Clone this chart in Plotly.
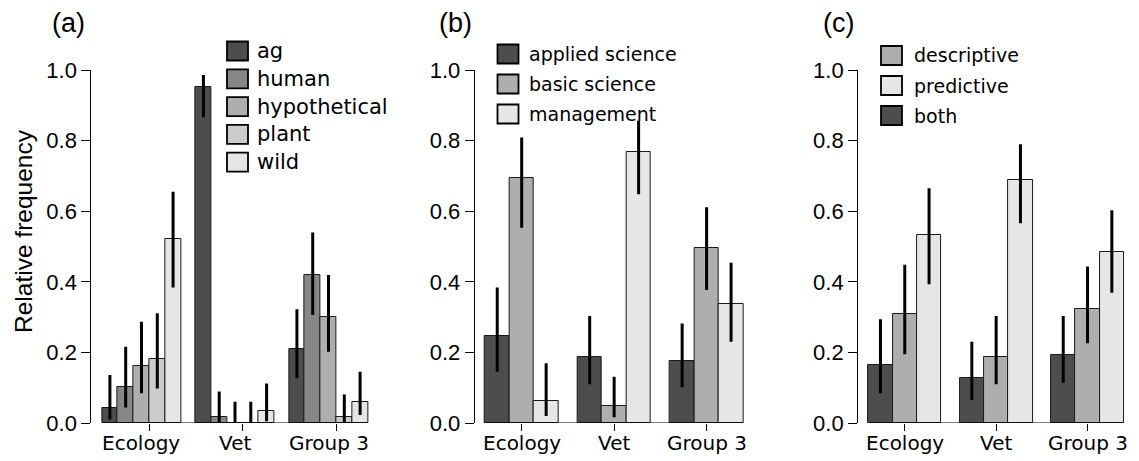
import plotly.graph_objects as go

W, H = 1139, 461

groups = ["Ecology", "Vet", "Group 3"]

# Panel (a)
a_names = ["ag", "human", "hypothetical", "plant", "wild"]
a_colors = ["#4D4D4D", "#878787", "#AEAEAE", "#CCCCCC", "#E6E6E6"]
a_vals = [[0.042, 0.953, 0.211], [0.101, 0.018, 0.419], [0.161, 0.0, 0.299],
          [0.181, 0.0, 0.018], [0.521, 0.034, 0.060]]
a_lo = [[0.010, 0.866, 0.127], [0.044, 0.0, 0.306], [0.084, 0.0, 0.202],
        [0.098, 0.0, 0.0], [0.384, 0.005, 0.023]]
a_hi = [[0.136, 0.986, 0.322], [0.216, 0.089, 0.540], [0.287, 0.060, 0.419],
        [0.311, 0.060, 0.081], [0.655, 0.112, 0.145]]

# Panel (b)
b_names = ["applied science", "basic science", "management"]
b_colors = ["#4D4D4D", "#AEAEAE", "#E6E6E6"]
b_vals = [[0.246, 0.188, 0.176], [0.695, 0.048, 0.495], [0.062, 0.767, 0.336]]
b_lo = [[0.145, 0.110, 0.101], [0.553, 0.016, 0.377], [0.020, 0.648, 0.230]]
b_hi = [[0.384, 0.303, 0.282], [0.809, 0.131, 0.611], [0.169, 0.856, 0.454]]

# Panel (c) (bar order: both, descriptive, predictive)
c_names = ["both", "descriptive", "predictive"]
c_colors = ["#4D4D4D", "#AEAEAE", "#E6E6E6"]
c_vals = [[0.164, 0.127, 0.192], [0.308, 0.188, 0.324], [0.532, 0.688, 0.485]]
c_lo = [[0.084, 0.065, 0.114], [0.195, 0.110, 0.226], [0.393, 0.566, 0.369]]
c_hi = [[0.294, 0.230, 0.303], [0.448, 0.303, 0.443], [0.665, 0.790, 0.603]]
c_legend_order = ["descriptive", "predictive", "both"]

y_ticks = [0.0, 0.2, 0.4, 0.6, 0.8, 1.0]
y_ticklabels = ["0.0", "0.2", "0.4", "0.6", "0.8", "1.0"]

SANS = "Liberation Sans, Arial, sans-serif"
DEJ = "DejaVu Sans, sans-serif"

# layout of panels in pixels
Y0_PX, Y1_PX = 423, 70
XLAB_PX = 443
panels = [
    dict(key="a", names=a_names, colors=a_colors, vals=a_vals, lo=a_lo, hi=a_hi,
         axis_px=91, bars_px=(102, 368), gap=0.92, tickoff="start3",
         title="(a)", title_x=68.5,
         leg=dict(names=a_names, sq_x=227, sq_w=21, sq_h=19, y0=51, dy=27.8, tx=255, fs=21)),
    dict(key="b", names=b_names, colors=b_colors, vals=b_vals, lo=b_lo, hi=b_hi,
         axis_px=474.5, bars_px=(485, 743.3), gap=0.78, tickoff="center",
         title="(b)", title_x=455,
         leg=dict(names=b_names, sq_x=497.5, sq_w=21, sq_h=19, y0=54, dy=30, tx=527, fs=19)),
    dict(key="c", names=c_names, colors=c_colors, vals=c_vals, lo=c_lo, hi=c_hi,
         axis_px=858, bars_px=(868.3, 1124), gap=0.76, tickoff="center",
         title="(c)", title_x=838,
         leg=dict(names=c_legend_order, sq_x=881, sq_w=21, sq_h=19, y0=55.5, dy=30, tx=912, fs=19)),
]

fig = go.Figure()
shapes = []
annotations = []

for i, p in enumerate(panels):
    n = len(p["names"])
    gap = p["gap"]
    total = len(groups) * n + (len(groups) - 1) * gap
    bx0, bx1 = p["bars_px"]
    ext = 0.04 * total
    xr = [-ext, total + ext]
    dom_left = bx0 - (bx1 - bx0) * 0.04
    dom_right = bx1 + (bx1 - bx0) * 0.04
    xa = "x" if i == 0 else f"x{i+1}"
    ya = "y" if i == 0 else f"y{i+1}"
    xkey = "xaxis" if i == 0 else f"xaxis{i+1}"
    ykey = "yaxis" if i == 0 else f"yaxis{i+1}"

    for j, name in enumerate(p["names"]):
        xs = [g * (n + gap) + j + 0.5 for g in range(len(groups))]
        v = p["vals"][j]
        up = [h - vv for h, vv in zip(p["hi"][j], v)]
        dn = [vv - l for vv, l in zip(v, p["lo"][j])]
        fig.add_trace(go.Bar(
            x=xs, y=v, width=1.0, name=name, showlegend=False,
            marker=dict(color=p["colors"][j], line=dict(color="#1a1a1a", width=1)),
            error_y=dict(type="data", symmetric=False, array=up, arrayminus=dn,
                         thickness=3, width=0, color="black"),
            xaxis=xa, yaxis=ya,
        ))

    centers = [g * (n + gap) + n / 2 for g in range(len(groups))]
    if p["tickoff"] == "start3":
        tv = [g * (n + gap) + 3.0 for g in range(len(groups))]
    else:
        tv = centers

    fig.update_layout(**{
        xkey: dict(domain=[dom_left / W, dom_right / W], range=xr, anchor=ya,
                   automargin=False,
                   showgrid=False, zeroline=False, showline=False,
                   tickmode="array", tickvals=tv, ticktext=["" for _ in tv],
                   ticks="outside", ticklen=7, tickwidth=1, tickcolor="black",
                   fixedrange=True),
        ykey: dict(domain=[(H - Y0_PX) / H, (H - Y1_PX) / H], range=[0, 1],
                   anchor=xa, automargin=False,
                   showgrid=False, zeroline=False,
                   showline=True, linecolor="black", linewidth=1,
                   tickmode="array", tickvals=y_ticks, ticktext=y_ticklabels,
                   ticks="outside", ticklen=9, tickwidth=1, tickcolor="black",
                   tickfont=dict(family=SANS, size=22, color="black"), fixedrange=True),
    })

    # group labels under the axis
    for cx, lab in zip(centers, groups):
        annotations.append(dict(text=lab, xref=xa, yref="paper", x=cx,
                                y=1 - XLAB_PX / H, showarrow=False,
                                xanchor="center", yanchor="middle",
                                font=dict(family=DEJ, size=20, color="black")))

    # baseline under the bars
    shapes.append(dict(type="line", xref=xa, yref=ya, x0=0, x1=total, y0=0, y1=0,
                       line=dict(color="black", width=1), layer="above"))

    # panel title
    annotations.append(dict(text=p["title"], xref="paper", yref="paper",
                            x=p["title_x"] / W, y=1 - 22.5 / H, showarrow=False,
                            xanchor="center", yanchor="middle",
                            font=dict(family=SANS, size=27, color="black")))

    # legend (drawn as keys + labels)
    lg = p["leg"]
    for k, nm in enumerate(lg["names"]):
        col = p["colors"][p["names"].index(nm)]
        cy = lg["y0"] + k * lg["dy"]
        shapes.append(dict(type="rect", xref="paper", yref="paper",
                           x0=lg["sq_x"] / W, x1=(lg["sq_x"] + lg["sq_w"]) / W,
                           y0=1 - (cy + lg["sq_h"] / 2) / H, y1=1 - (cy - lg["sq_h"] / 2) / H,
                           fillcolor=col, line=dict(color="black", width=1.8)))
        annotations.append(dict(text=nm, xref="paper", yref="paper",
                                x=lg["tx"] / W, y=1 - cy / H, showarrow=False,
                                xanchor="left", yanchor="middle",
                                font=dict(family=DEJ, size=lg["fs"], color="black")))

annotations.append(dict(text="Relative frequency", xref="paper", yref="paper",
                        x=23 / W, y=1 - 231 / H, showarrow=False, textangle=-90,
                        xanchor="center", yanchor="middle",
                        font=dict(family=SANS, size=24.5, color="black")))

fig.update_layout(
    width=W, height=H, margin=dict(l=0, r=0, t=0, b=0, pad=0, autoexpand=False),
    paper_bgcolor="white", plot_bgcolor="white",
    barmode="overlay", bargap=0,
    shapes=shapes, annotations=annotations, showlegend=False,
)

fig.write_html("out.html")
